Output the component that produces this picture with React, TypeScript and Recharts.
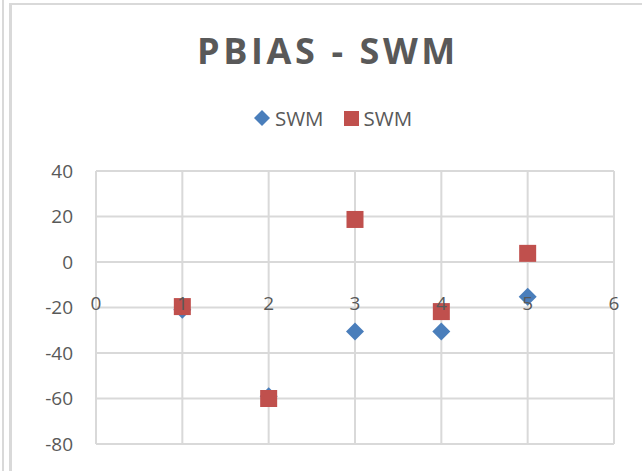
import React from 'react';
import { ScatterChart, Scatter, XAxis, YAxis, CartesianGrid } from 'recharts';

const X_TICKS = [0, 1, 2, 3, 4, 5, 6];
const Y_TICKS = [-80, -60, -40, -20, 0, 20, 40];

// two series, both labelled SWM in the original
const BLUE_X = [1, 2, 3, 4, 5];
const BLUE_Y = [-21, -59, -30.6, -30.6, -15.3];
const RED_X = [1, 2, 3, 4, 5];
const RED_Y = [-19.6, -60, 18.7, -21.8, 3.8];

const BLUE = '#4a7ebb';
const RED = '#c0504d';
const TEXT = '#595959';
const GRID = '#d9d9d9';
const FONT = '"Open Sans", "Liberation Sans", sans-serif';

const blueData = BLUE_X.map((x, i) => ({ x, y: BLUE_Y[i] }));
const redData = RED_X.map((x, i) => ({ x, y: RED_Y[i] }));

const MARGIN = { top: 171, right: 28, bottom: 26, left: 15 };

const Diamond = (props: any) => {
  const { cx, cy } = props;
  if (typeof cx !== 'number' || typeof cy !== 'number') return null;
  const r = 9;
  return <path d={`M${cx},${cy - r}L${cx + r},${cy}L${cx},${cy + r}L${cx - r},${cy}Z`} fill={BLUE} />;
};

const Square = (props: any) => {
  const { cx, cy } = props;
  if (typeof cx !== 'number' || typeof cy !== 'number') return null;
  const h = 8.5;
  return <rect x={cx - h} y={cy - h} width={h * 2} height={h * 2} fill={RED} />;
};

const Hidden = () => <g />;

// Excel puts the category labels next to the zero line, not at the bottom
const XTick = (props: any) => {
  const { x, y, payload } = props;
  return (
    <text x={x} y={y} dy={-141} textAnchor="middle" dominantBaseline="central" fill={TEXT} fontSize={19} fontFamily={FONT}>
      {payload.value}
    </text>
  );
};

const App: React.FC = () => {
  return (
    <div style={{ position: 'absolute', left: 0, top: 0, width: 642, height: 471, background: '#fff', overflow: 'hidden' }}>
      <div style={{ position: 'absolute', left: 2, top: 0, width: 2, height: 471, background: GRID }} />
      <div style={{ position: 'absolute', left: 9, top: 3, width: 700, height: 500, borderLeft: `3px solid ${GRID}`, borderTop: `2px solid ${GRID}` }} />
      <div
        style={{
          position: 'absolute', left: 0, top: 26, width: 656, textAlign: 'center',
          fontFamily: FONT, fontWeight: 'bold', fontSize: 36, letterSpacing: 3.6, color: TEXT, lineHeight: '50px',
        }}
      >
        PBIAS - SWM
      </div>
      <div
        style={{
          position: 'absolute', left: 0, top: 105, width: 666, display: 'flex', justifyContent: 'center',
          alignItems: 'center', fontFamily: FONT, fontSize: 20.5, color: TEXT, lineHeight: '26px',
        }}
      >
        <svg width={16} height={16} style={{ marginRight: 5 }}>
          <path d="M8,0L16,8L8,16L0,8Z" fill={BLUE} />
        </svg>
        <span>SWM</span>
        <svg width={15} height={15} style={{ marginLeft: 20, marginRight: 5 }}>
          <rect x={0} y={0} width={15} height={15} fill={RED} />
        </svg>
        <span>SWM</span>
      </div>
      <div style={{ position: 'absolute', left: 0, top: 0 }}>
        <ScatterChart width={642} height={471} margin={MARGIN}>
          <CartesianGrid stroke={GRID} strokeWidth={2} />
          <XAxis
            type="number"
            dataKey="x"
            domain={[0, 6]}
            ticks={X_TICKS}
            height={1}
            tickSize={0}
            tick={<Hidden />}
            interval={0}
            axisLine={false}
            tickLine={false}
          />
          <YAxis
            type="number"
            dataKey="y"
            domain={[-80, 40]}
            ticks={Y_TICKS}
            axisLine={false}
            tickLine={false}
            width={81}
            tickMargin={17}
            interval={0}
            tick={{ fill: TEXT, fontSize: 19, fontFamily: FONT }}
          />
          <Scatter name="SWM" data={blueData} shape={<Diamond />} isAnimationActive={false} />
          <Scatter name="SWM" data={redData} shape={<Square />} isAnimationActive={false} />
        </ScatterChart>
      </div>
      {/* second layer so the x labels sit on top of the markers, like in Excel */}
      <div style={{ position: 'absolute', left: 0, top: 0, pointerEvents: 'none' }}>
        <ScatterChart width={642} height={471} margin={MARGIN}>
          <XAxis
            type="number"
            dataKey="x"
            domain={[0, 6]}
            ticks={X_TICKS}
            axisLine={false}
            tickLine={false}
            tickSize={0}
            tickMargin={0}
            height={1}
            tick={<XTick />}
            interval={0}
          />
          <YAxis
            type="number"
            dataKey="y"
            domain={[-80, 40]}
            ticks={Y_TICKS}
            width={81}
            tick={<Hidden />}
            axisLine={false}
            tickLine={false}
          />
          <Scatter data={blueData} shape={<Hidden />} isAnimationActive={false} />
        </ScatterChart>
      </div>
    </div>
  );
};

export default App;
